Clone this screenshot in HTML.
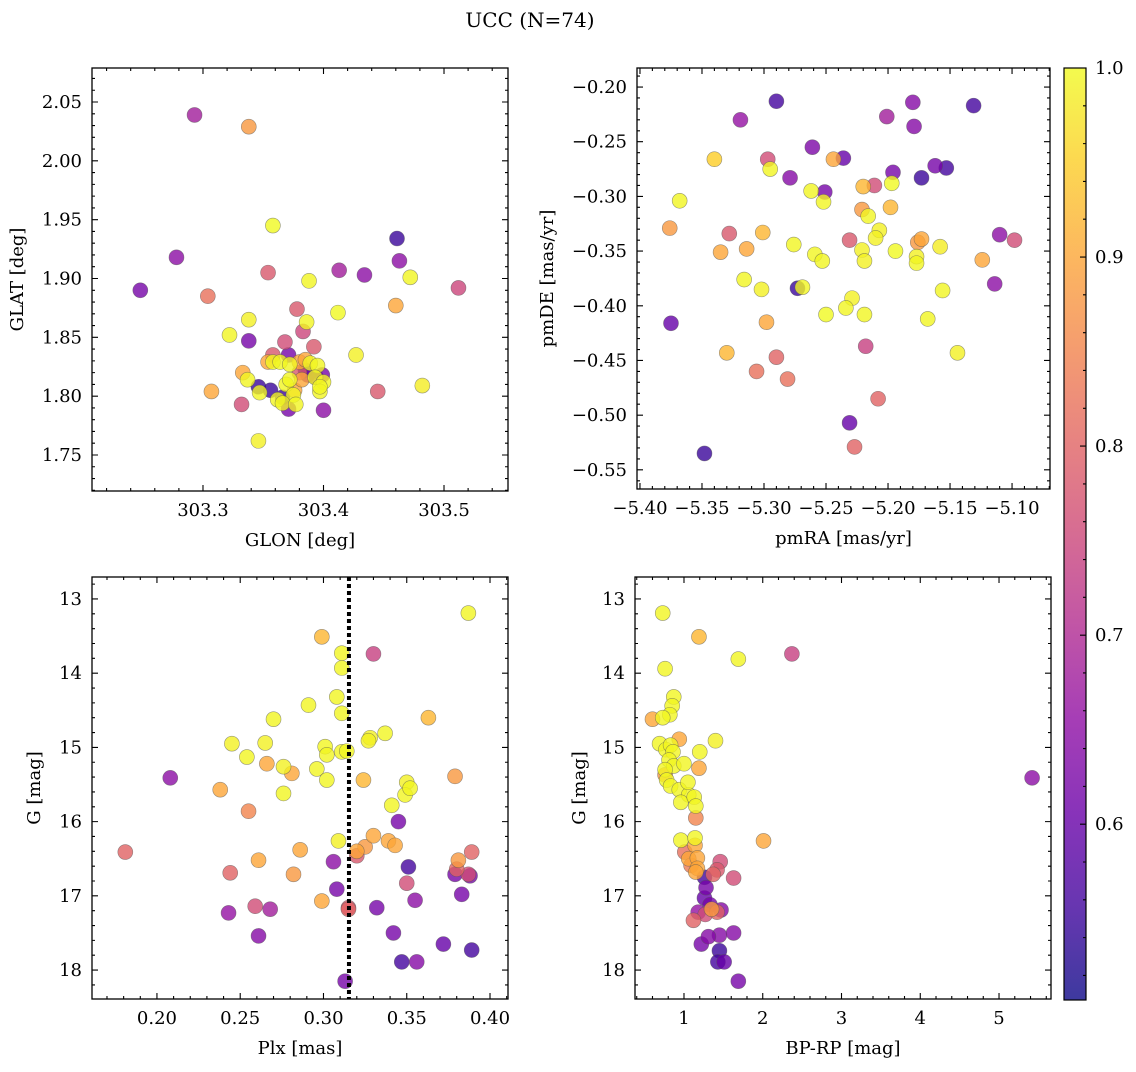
<!DOCTYPE html>
<html><head><meta charset="utf-8"><title>UCC (N=74)</title>
<style>
html,body{margin:0;padding:0;background:#fff;}
svg text{font-family:"DejaVu Serif","Liberation Serif",serif;fill:#000;}
</style></head>
<body>
<svg id="fig" xmlns="http://www.w3.org/2000/svg" width="1136" height="1067" viewBox="0 0 1136 1067">
<rect width="1136" height="1067" fill="#fff"/>
<text x="530" y="27" font-size="20" text-anchor="middle">UCC (N=74)</text>
</svg>
<script>
// ---------- Data ----------
const p1Glon = [303.293,303.338,303.358,303.278,303.248,303.304,303.354,303.413,303.434,303.461,303.463,303.472,303.460,303.512,303.388,303.378,303.412,303.322,303.338,303.338,303.383,303.386,303.427,303.358,303.368,303.392,303.371,303.333,303.337,303.354,303.358,303.364,303.372,303.380,303.385,303.389,303.395,303.346,303.356,303.366,303.369,303.372,303.375,303.376,303.385,303.387,303.394,303.399,303.393,303.400,303.382,303.397,303.397,303.347,303.362,303.366,303.377,303.371,303.400,303.332,303.307,303.346,303.445,303.482,303.380];
const p1Glat = [2.039,2.029,1.945,1.918,1.890,1.885,1.905,1.907,1.903,1.934,1.915,1.901,1.877,1.892,1.898,1.874,1.871,1.852,1.865,1.847,1.855,1.863,1.835,1.835,1.846,1.842,1.835,1.820,1.814,1.829,1.829,1.829,1.827,1.829,1.831,1.828,1.826,1.808,1.805,1.799,1.810,1.814,1.801,1.805,1.822,1.818,1.816,1.818,1.816,1.812,1.814,1.804,1.808,1.803,1.797,1.794,1.793,1.789,1.788,1.793,1.804,1.762,1.804,1.809,1.820];
const p1Prob = [0.68,0.88,1.0,0.65,0.62,0.82,0.78,0.68,0.65,0.55,0.65,0.995,0.9,0.75,0.995,0.78,1.0,0.995,0.99,0.62,0.75,0.995,0.99,0.78,0.76,0.78,0.62,0.9,0.995,0.9,0.995,0.995,0.995,0.9,0.9,0.995,0.995,0.55,0.55,0.55,0.995,0.995,0.995,0.9,0.55,0.62,0.62,0.62,0.995,0.995,0.9,0.995,0.995,0.995,0.995,0.995,0.995,0.62,0.65,0.76,0.9,0.99,0.78,0.985,0.78];

const p2PmRA = [-5.290,-5.319,-5.180,-5.131,-5.201,-5.179,-5.261,-5.297,-5.295,-5.244,-5.236,-5.340,-5.196,-5.162,-5.153,-5.173,-5.211,-5.197,-5.279,-5.251,-5.262,-5.220,-5.368,-5.252,-5.221,-5.198,-5.216,-5.207,-5.210,-5.328,-5.301,-5.376,-5.231,-5.110,-5.098,-5.335,-5.314,-5.276,-5.259,-5.253,-5.221,-5.219,-5.194,-5.176,-5.173,-5.177,-5.177,-5.158,-5.124,-5.316,-5.302,-5.273,-5.269,-5.229,-5.234,-5.298,-5.250,-5.219,-5.375,-5.168,-5.114,-5.156,-5.290,-5.330,-5.144,-5.218,-5.306,-5.281,-5.208,-5.231,-5.227,-5.348];
const p2PmDE = [-0.213,-0.230,-0.214,-0.217,-0.227,-0.236,-0.255,-0.266,-0.275,-0.266,-0.265,-0.266,-0.278,-0.272,-0.274,-0.283,-0.290,-0.288,-0.283,-0.296,-0.295,-0.291,-0.304,-0.305,-0.312,-0.310,-0.318,-0.331,-0.338,-0.334,-0.333,-0.329,-0.340,-0.335,-0.340,-0.351,-0.348,-0.344,-0.353,-0.359,-0.349,-0.359,-0.350,-0.342,-0.339,-0.355,-0.361,-0.346,-0.358,-0.376,-0.385,-0.384,-0.383,-0.393,-0.402,-0.415,-0.408,-0.408,-0.416,-0.412,-0.380,-0.386,-0.447,-0.443,-0.443,-0.437,-0.460,-0.467,-0.485,-0.507,-0.529,-0.535];
const p2Prob = [0.56,0.66,0.64,0.56,0.68,0.64,0.63,0.76,0.995,0.9,0.6,0.95,0.62,0.62,0.56,0.55,0.76,1.0,0.64,0.62,0.995,0.92,0.995,0.995,0.88,0.92,0.995,0.99,0.99,0.78,0.92,0.88,0.78,0.65,0.76,0.9,0.9,0.995,0.995,0.995,0.99,0.99,1.0,0.88,0.9,0.99,0.995,0.985,0.9,0.995,0.99,0.55,0.995,0.99,0.995,0.9,1.0,0.995,0.6,0.995,0.65,0.995,0.8,0.92,0.99,0.74,0.82,0.82,0.8,0.6,0.8,0.55];

const p3Plx = [0.387,0.299,0.311,0.330,0.311,0.308,0.363,0.270,0.291,0.311,0.245,0.265,0.301,0.302,0.311,0.314,0.328,0.327,0.337,0.254,0.296,0.302,0.324,0.208,0.238,0.266,0.281,0.276,0.379,0.350,0.349,0.352,0.255,0.276,0.341,0.345,0.309,0.330,0.339,0.343,0.325,0.320,0.320,0.286,0.306,0.261,0.181,0.244,0.282,0.351,0.381,0.380,0.389,0.350,0.379,0.387,0.388,0.383,0.308,0.355,0.299,0.243,0.259,0.268,0.315,0.315,0.332,0.342,0.372,0.261,0.347,0.356,0.389,0.313];
const p3G = [13.19,13.51,13.73,13.74,13.93,14.32,14.60,14.62,14.43,14.54,14.95,14.94,14.99,15.10,15.06,15.05,14.87,14.91,14.81,15.13,15.29,15.44,15.44,15.41,15.57,15.22,15.35,15.26,15.39,15.47,15.64,15.55,15.86,15.62,15.78,16.00,16.26,16.19,16.26,16.32,16.34,16.40,16.46,16.38,16.54,16.52,16.41,16.69,16.71,16.61,16.52,16.64,16.41,16.83,16.71,16.71,16.73,16.98,16.91,17.06,17.07,17.23,17.14,17.18,17.18,17.16,17.16,17.50,17.65,17.54,17.89,17.89,17.73,18.15];
const p3Prob = [0.995,0.92,0.995,0.74,0.995,0.995,0.92,0.995,0.995,0.995,0.99,0.99,0.995,0.995,0.995,0.995,0.99,0.99,0.995,0.995,0.995,0.995,0.92,0.65,0.9,0.9,0.9,0.99,0.88,0.99,0.995,0.995,0.85,0.995,0.995,0.62,0.99,0.9,0.9,0.9,0.88,0.9,0.78,0.9,0.65,0.9,0.8,0.8,0.88,0.56,0.88,0.8,0.8,0.76,0.62,0.76,0.62,0.62,0.62,0.65,0.9,0.66,0.76,0.68,0.8,0.78,0.62,0.62,0.6,0.64,0.56,0.64,0.56,0.62];

const p4BpRp = [0.73,1.19,0.76,1.69,2.37,0.87,0.85,0.82,0.60,0.73,0.69,0.94,1.40,0.77,0.83,0.86,0.81,0.87,1.20,1.19,0.76,0.78,0.83,0.94,1.06,0.96,1.13,1.05,1.00,0.76,5.42,1.15,1.15,0.96,1.14,1.14,1.01,1.06,1.17,1.17,1.09,1.15,2.01,1.46,1.42,1.37,1.26,1.28,1.26,1.63,1.33,1.42,1.35,1.18,1.27,1.47,1.12,1.45,1.31,1.63,1.22,1.45,1.51,1.43,1.69];
const p4G = [13.19,13.51,13.94,13.81,13.74,14.32,14.44,14.56,14.62,14.60,14.95,14.89,14.91,15.03,14.97,15.06,15.17,15.25,15.06,15.28,15.30,15.44,15.52,15.57,15.64,15.74,15.67,15.47,15.22,15.37,15.41,15.79,15.95,16.25,16.22,16.32,16.41,16.50,16.49,16.63,16.59,16.68,16.26,16.54,16.65,16.71,16.75,16.89,17.03,16.76,17.12,17.22,17.18,17.22,17.25,17.19,17.33,17.53,17.55,17.50,17.65,17.74,17.89,17.89,18.15];
const p4Prob = [0.995,0.92,0.995,0.995,0.74,0.995,0.995,0.995,0.9,0.995,0.995,0.9,0.99,0.995,0.995,0.995,0.995,0.995,0.995,0.9,0.995,0.995,0.995,0.995,0.995,0.995,0.995,0.995,0.995,0.88,0.65,0.995,0.85,0.995,0.995,0.9,0.82,0.9,0.9,0.9,0.84,0.9,0.9,0.76,0.78,0.8,0.56,0.62,0.6,0.76,0.62,0.8,0.88,0.66,0.76,0.64,0.8,0.64,0.64,0.64,0.62,0.55,0.6,0.56,0.62];

const plxLine = [0.3153];
const cbTicks = [0.6,0.7,0.8,0.9,1.0];
const vMin = 0.507, vMax = 1.0;

// ---------- Helpers ----------
const NS = "http://www.w3.org/2000/svg";
const svg = document.getElementById('fig');
function mk(tag, attrs, parent){
  const e = document.createElementNS(NS, tag);
  for (const k in attrs) e.setAttribute(k, attrs[k]);
  (parent||svg).appendChild(e);
  return e;
}
const plasmaStops = [[13,8,135],[65,4,157],[106,0,168],[143,13,164],[177,42,144],[204,71,120],[225,100,98],[242,132,75],[252,166,54],[252,206,37],[240,249,33]];
function plasma(t){
  t = Math.max(0, Math.min(1, t));
  const f = t*10, i = Math.min(9, Math.floor(f)), u = f - i;
  const a = plasmaStops[i], b = plasmaStops[i+1];
  return 'rgb(' + [0,1,2].map(k=>Math.round(a[k]+(b[k]-a[k])*u)).join(',') + ')';
}
function fmt(v, d){ const s = Math.abs(v).toFixed(d); return (v < -1e-9 ? '\u2212' : '') + s; }

function panel(cfg){
  const g = mk('g', {});
  
  
  const L=cfg.l, T=cfg.t, R=cfg.r, B=cfg.b;
  const sx = v => L + (v - cfg.x0)/(cfg.x1 - cfg.x0)*(R-L);
  const sy = v => cfg.inv ? T + (v - cfg.y0)/(cfg.y1 - cfg.y0)*(B-T) : B - (v - cfg.y0)/(cfg.y1 - cfg.y0)*(B-T);
  const pg = mk('g', {}, g);
  
  
  const idx = cfg.xs.map((_, i) => i).sort((a, b) => cfg.ps[a] - cfg.ps[b]);
  idx.forEach(i => {
    const c = mk('circle', {cx: sx(cfg.xs[i]), cy: sy(cfg.ys[i]), r: 7.5, fill: plasma((cfg.ps[i]-vMin)/(vMax-vMin)), 'fill-opacity': 0.8, stroke: '#555', 'stroke-opacity': 0.6, 'stroke-width': 0.6}, pg);
    
    
  });
  if (cfg.vline) {
    cfg.vline.forEach(v => {
      const ln = mk('line', {x1: sx(v), x2: sx(v), y1: T, y2: B, stroke: '#000', 'stroke-width': 4, 'stroke-dasharray': '4 3'}, g);
      
      
    });
  }
  const fr = mk('rect', {x: L, y: T, width: R-L, height: B-T, fill: 'none', stroke: '#000', 'stroke-width': 1.3}, g);
  
  
  let d = '';
  const eps = 1e-9;
  for (let v = Math.ceil(cfg.x0/cfg.xmin - eps)*cfg.xmin; v <= cfg.x1 + eps; v += cfg.xmin) {
    const x = sx(v); if (x < L || x > R) continue;
    const major = Math.abs(v/cfg.xmaj - Math.round(v/cfg.xmaj)) < 1e-4;
    const len = major ? 6 : 3;
    d += `M${x},${B}v${-len}M${x},${T}v${len}`;
  }
  for (let v = Math.ceil(Math.min(cfg.y0,cfg.y1)/cfg.ymin - eps)*cfg.ymin; v <= Math.max(cfg.y0,cfg.y1) + eps; v += cfg.ymin) {
    const y = sy(v); if (y < T || y > B) continue;
    const major = Math.abs(v/cfg.ymaj - Math.round(v/cfg.ymaj)) < 1e-4;
    const len = major ? 6 : 3;
    d += `M${L},${y}h${len}M${R},${y}h${-len}`;
  }
  mk('path', {d: d, stroke: '#000', 'stroke-width': 1.1, fill: 'none'}, g);
  cfg.xticks.forEach(v => {
    const t = mk('text', {x: sx(v), y: B + 25, 'font-size': 18, 'text-anchor': 'middle'}, g);
    t.textContent = fmt(v, cfg.xd);
    
    
  });
  cfg.yticks.forEach(v => {
    const t = mk('text', {x: L - 10, y: sy(v) + 6, 'font-size': 18, 'text-anchor': 'end'}, g);
    t.textContent = fmt(v, cfg.yd);
    
    
  });
  const xl = mk('text', {x: (L+R)/2, y: B + 55, 'font-size': 18, 'text-anchor': 'middle'}, g);
  xl.textContent = cfg.xlabel;
  
  
  const yl = mk('text', {x: 0, y: 0, 'font-size': 18, 'text-anchor': 'middle', transform: `translate(${cfg.ylx},${(T+B)/2}) rotate(-90)`}, g);
  yl.textContent = cfg.ylabel;
  
  
}

panel({name:'glon-glat-panel', l:92, t:68, r:508, b:491, x0:303.2079, x1:303.5531, y0:1.7194, y1:2.0789, inv:false,
  xs:p1Glon, ys:p1Glat, ps:p1Prob, xmaj:0.1, xmin:0.02, ymaj:0.05, ymin:0.01,
  xticks:[303.3,303.4,303.5], xd:1, yticks:[1.75,1.80,1.85,1.90,1.95,2.00,2.05], yd:2,
  xlabel:'GLON [deg]', ylabel:'GLAT [deg]', ylx:23});

panel({name:'pmra-pmde-panel', l:637, t:68, r:1050, b:489, x0:-5.4024, x1:-5.0694, y0:-0.5675, y1:-0.1826, inv:false,
  xs:p2PmRA, ys:p2PmDE, ps:p2Prob, xmaj:0.05, xmin:0.01, ymaj:0.05, ymin:0.01,
  xticks:[-5.40,-5.35,-5.30,-5.25,-5.20,-5.15,-5.10], xd:2, yticks:[-0.55,-0.50,-0.45,-0.40,-0.35,-0.30,-0.25,-0.20], yd:2,
  xlabel:'pmRA [mas/yr]', ylabel:'pmDE [mas/yr]', ylx:553});

panel({name:'plx-g-panel', l:92, t:577, r:508, b:999, x0:0.161, x1:0.4108, y0:12.704, y1:18.39, inv:true,
  xs:p3Plx, ys:p3G, ps:p3Prob, xmaj:0.05, xmin:0.01, ymaj:1, ymin:0.2,
  xticks:[0.20,0.25,0.30,0.35,0.40], xd:2, yticks:[13,14,15,16,17,18], yd:0,
  xlabel:'Plx [mas]', ylabel:'G [mag]', ylx:40, vline:plxLine});

panel({name:'color-magnitude-panel', l:635, t:577, r:1051, b:999, x0:0.378, x1:5.66, y0:12.704, y1:18.39, inv:true,
  xs:p4BpRp, ys:p4G, ps:p4Prob, xmaj:1, xmin:0.2, ymaj:1, ymin:0.2,
  xticks:[1,2,3,4,5], xd:0, yticks:[13,14,15,16,17,18], yd:0,
  xlabel:'BP-RP [mag]', ylabel:'G [mag]', ylx:585});

// ---------- Colorbar ----------
(function(){
  const L=1064, R=1086, T=68, B=1000;
  const cy = v => T + (vMax - v)/(vMax - vMin)*(B - T);
  const defs = mk('defs', {});
  const lg = mk('linearGradient', {id:'plasmaGrad', x1:0, y1:1, x2:0, y2:0}, defs);
  for (let i = 0; i <= 20; i++) mk('stop', {offset: i/20, 'stop-color': plasma(i/20), 'stop-opacity': 0.8}, lg);
  const g = mk('g', {});
  
  
  mk('rect', {x:L, y:T, width:R-L, height:B-T, fill:'url(#plasmaGrad)', stroke:'#000', 'stroke-width':1.2}, g);
  let d = '';
  for (let v = 0.52; v <= 1.0001; v += 0.02) {
    const major = Math.abs(v*10 - Math.round(v*10)) < 1e-4;
    d += `M${R},${cy(v)}h${major ? -6 : -3}`;
  }
  mk('path', {d:d, stroke:'#000', 'stroke-width':1.1}, g);
  cbTicks.forEach(v => {
    const t = mk('text', {x: R + 9, y: cy(v) + 6, 'font-size': 18}, g);
    t.textContent = v.toFixed(1);
    
    
  });
})();
</script>
</body></html>
